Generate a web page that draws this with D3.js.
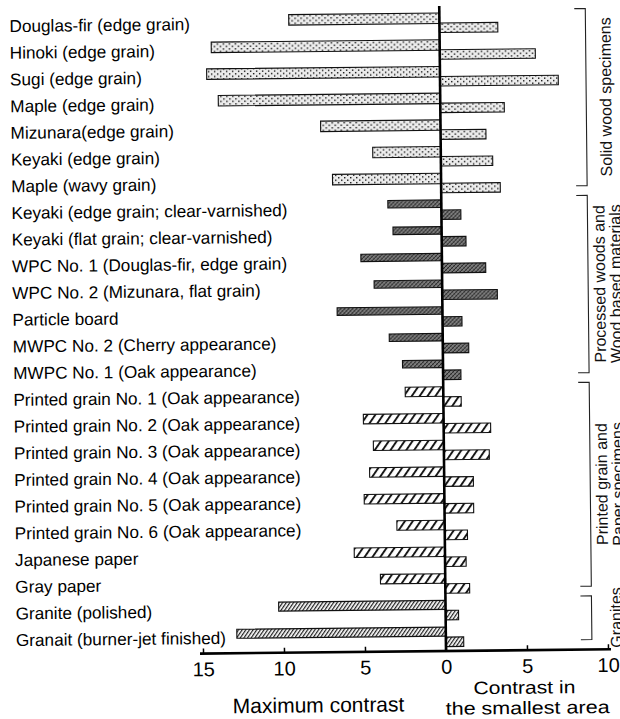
<!DOCTYPE html>
<html>
<head>
<meta charset="utf-8">
<script src="https://cdn.jsdelivr.net/npm/d3@7"></script>
<style>
  body { margin: 0; background: #fff; }
  svg { display: block; font-family: "Liberation Sans", Arial, sans-serif; }
</style>
</head>
<body>
<svg width="620" height="719"></svg>
<script>
// data
const categories = [
  "Douglas-fir (edge grain)",
  "Hinoki (edge grain)",
  "Sugi (edge grain)",
  "Maple (edge grain)",
  "Mizunara(edge grain)",
  "Keyaki (edge grain)",
  "Maple (wavy grain)",
  "Keyaki (edge grain; clear-varnished)",
  "Keyaki (flat grain; clear-varnished)",
  "WPC No. 1 (Douglas-fir, edge grain)",
  "WPC No. 2 (Mizunara, flat grain)",
  "Particle board",
  "MWPC No. 2 (Cherry appearance)",
  "MWPC No. 1 (Oak appearance)",
  "Printed grain No. 1 (Oak appearance)",
  "Printed grain No. 2 (Oak appearance)",
  "Printed grain No. 3 (Oak appearance)",
  "Printed grain No. 4 (Oak appearance)",
  "Printed grain No. 5 (Oak appearance)",
  "Printed grain No. 6 (Oak appearance)",
  "Japanese paper",
  "Gray paper",
  "Granite (polished)",
  "Granait (burner-jet finished)"
];
const maxContrast = [9.3, 14.1, 14.4, 13.7, 7.4, 4.2, 6.7,
  3.3, 3.0, 5.0, 4.2, 6.5, 3.3, 2.5,
  2.35, 4.95, 4.35, 4.6, 4.95, 2.95, 5.6, 4.0,
  10.3, 12.9];
const smallestArea = [3.6, 5.9, 7.3, 3.95, 2.8, 3.2, 3.65,
  1.2, 1.5, 2.7, 3.4, 1.2, 1.6, 1.1,
  1.1, 2.9, 2.8, 1.8, 1.8, 1.4, 1.3, 1.5,
  0.8, 1.1];
const groupNames = [
  ["Solid wood specimens"],
  ["Processed woods and", "Wood based materials"],
  ["Printed grain and", "Paper specimens"],
  ["Granites"]
];
const groupSizes = [7, 7, 8, 2];
const tickValues = [-15, -10, -5, 0, 5, 10];

// styles per group
const fills = ["url(#dots)", "url(#cross)", "url(#hatch)", "url(#dense)"];
const leftH = [10.5, 7.5, 9.5, 9];
const rightH = 9.5;

const svg = d3.select("svg");
svg.append("rect").attr("width", 620).attr("height", 719).attr("fill", "#fff");

// patterns
const defs = svg.append("defs");
const dots = defs.append("pattern").attr("id", "dots")
  .attr("patternUnits", "userSpaceOnUse").attr("width", 6).attr("height", 5);
dots.append("rect").attr("width", 6).attr("height", 5).attr("fill", "#ececec");
dots.append("rect").attr("x", 1).attr("y", 1).attr("width", 1.4).attr("height", 1.4).attr("fill", "#111");
dots.append("rect").attr("x", 4).attr("y", 3.5).attr("width", 1.4).attr("height", 1.4).attr("fill", "#111");

const cross = defs.append("pattern").attr("id", "cross")
  .attr("patternUnits", "userSpaceOnUse").attr("width", 4).attr("height", 4);
cross.append("rect").attr("width", 4).attr("height", 4).attr("fill", "#7e7e7e");
cross.append("path").attr("d", "M0,4L4,0").attr("stroke", "#222").attr("stroke-width", 1);
cross.append("path").attr("d", "M0,0L4,4").attr("stroke", "#4a4a4a").attr("stroke-width", 0.6);

const hatch = defs.append("pattern").attr("id", "hatch")
  .attr("patternUnits", "userSpaceOnUse").attr("width", 6.5).attr("height", 10)
  .attr("patternTransform", "rotate(35)");
hatch.append("rect").attr("width", 6.5).attr("height", 10).attr("fill", "#fff");
hatch.append("line").attr("x1", 1).attr("x2", 1).attr("y1", 0).attr("y2", 10)
  .attr("stroke", "#111").attr("stroke-width", 1.9);

const dense = defs.append("pattern").attr("id", "dense")
  .attr("patternUnits", "userSpaceOnUse").attr("width", 3).attr("height", 10)
  .attr("patternTransform", "rotate(35)");
dense.append("rect").attr("width", 3).attr("height", 10).attr("fill", "#fff");
dense.append("line").attr("x1", 0.6).attr("x2", 0.6).attr("y1", 0).attr("y2", 10)
  .attr("stroke", "#222").attr("stroke-width", 1.3);

// the scan is tilted a little
const g = svg.append("g").attr("transform", "rotate(-0.6, 446, 651)");

// scales
const x = d3.scaleLinear().domain([-15, 10]).range([203, 608]);
const y = d3.scaleBand().domain(categories).range([13, 13 + 24 * 26.7]);
const axisY = 651;

const groupIndex = [];
groupSizes.forEach((n, gi) => { for (let k = 0; k < n; k++) groupIndex.push(gi); });

const rows = categories.map((c, i) => ({
  name: c, max: maxContrast[i], small: smallestArea[i], grp: groupIndex[i]
}));

// labels
g.append("g").selectAll("text").data(rows).enter().append("text")
  .attr("x", 16)
  .attr("y", (d) => y(d.name) + 14.5)
  .style("font-size", "17.2px")
  .attr("fill", "#000")
  .text((d) => d.name);

// maximum contrast bars (to the left)
g.append("g").selectAll("rect").data(rows).enter().append("rect")
  .attr("x", (d) => x(-d.max))
  .attr("y", (d) => y(d.name))
  .attr("width", (d) => x(0) - x(-d.max))
  .attr("height", (d) => leftH[d.grp])
  .attr("fill", (d) => fills[d.grp])
  .attr("stroke", "#111").attr("stroke-width", 1.1);

// contrast in the smallest area (to the right)
g.append("g").selectAll("rect").data(rows).enter().append("rect")
  .attr("x", x(0))
  .attr("y", (d) => y(d.name) + 10)
  .attr("width", (d) => x(d.small) - x(0))
  .attr("height", rightH)
  .attr("fill", (d) => fills[d.grp])
  .attr("stroke", "#111").attr("stroke-width", 1.1);

// axis
const xAxis = d3.axisBottom(x)
  .tickValues(tickValues)
  .tickFormat((d) => Math.abs(d))
  .tickSizeInner(-5)
  .tickSizeOuter(0)
  .tickPadding(8.5);
const axisG = g.append("g").attr("transform", `translate(0,${axisY})`).call(xAxis);
axisG.select(".domain").attr("d", `M200,0H611`).attr("stroke", "#000").attr("stroke-width", 2.6);
axisG.selectAll(".tick line").attr("stroke", "#000").attr("stroke-width", 1.5);
axisG.selectAll(".tick text").style("font-size", "20px").style("font-family", "Liberation Sans, Arial, sans-serif").attr("fill", "#000");

// zero line
g.append("line")
  .attr("x1", x(0)).attr("x2", x(0))
  .attr("y1", 6).attr("y2", axisY)
  .attr("stroke", "#000").attr("stroke-width", 2.6);

// group brackets
let start = 0;
const bx = 592;
groupSizes.forEach((n, gi) => {
  const top = y(categories[start]) - 3;
  const bottom = y(categories[start + n - 1]) + 14;
  g.append("path")
    .attr("d", `M${bx - 11},${top}H${bx}V${bottom}H${bx - 11}`)
    .attr("fill", "none").attr("stroke", "#222").attr("stroke-width", 1.1);
  const mid = (top + bottom) / 2;
  const lines = groupNames[gi];
  const base = lines.length === 1 ? (gi === 0 ? 617 : 622) : 609;
  lines.forEach((t, li) => {
    g.append("text")
      .attr("transform", `translate(${base + li * 16},${mid}) rotate(-90)`)
      .attr("text-anchor", "middle")
      .style("font-size", "16px")
      .attr("fill", "#111")
      .text(t);
  });
  start += n;
});

// axis titles
g.append("text").attr("x", 318).attr("y", 711).attr("text-anchor", "middle")
  .style("font-size", "21px").text("Maximum contrast");
g.append("text").attr("x", 524).attr("y", 694.5).attr("text-anchor", "middle")
  .style("font-size", "18px")
  .attr("textLength", 102).attr("lengthAdjust", "spacingAndGlyphs")
  .text("Contrast in");
g.append("text").attr("x", 527).attr("y", 714.8).attr("text-anchor", "middle")
  .style("font-size", "18px")
  .attr("textLength", 164).attr("lengthAdjust", "spacingAndGlyphs")
  .text("the smallest area");
</script>
</body>
</html>
